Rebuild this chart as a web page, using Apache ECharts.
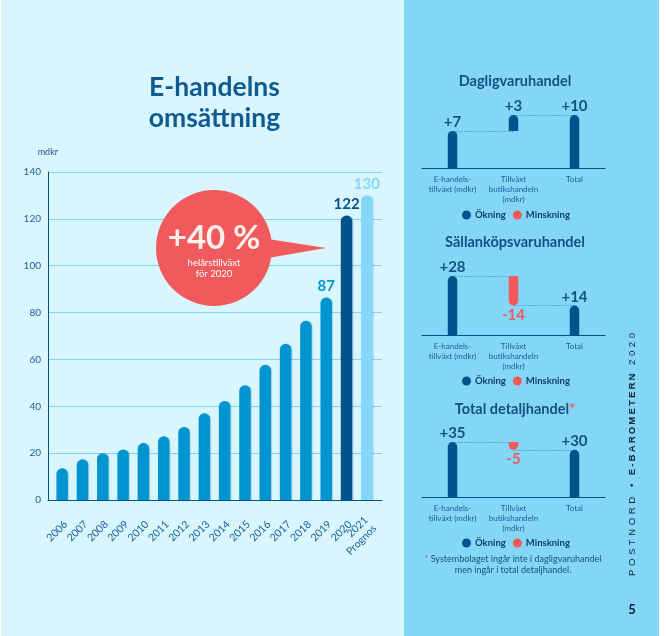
<!DOCTYPE html>
<html>
<head>
<meta charset="utf-8">
<style>
  html, body { margin: 0; padding: 0; background: #fff; }
  #chart { width: 666px; height: 636px; }
  #side { position: absolute; left: 625px; top: 332px; height: 244px; writing-mode: vertical-rl; transform: rotate(180deg);
    font: 9.5px "Liberation Sans", sans-serif; letter-spacing: 3.6px; color: #0b2036; white-space: nowrap; line-height: 14px; }
  #side b { font-weight: 700; letter-spacing: 2.2px; }
  #side i { font-style: normal; letter-spacing: 3.7px; }
</style>
</head>
<body>
<div id="chart"></div>
<div id="side">POSTNORD <b>•</b> <b>E-BAROMETERN</b> <i>2020</i></div>
<script src="https://cdn.jsdelivr.net/npm/echarts@6/dist/echarts.min.js"></script>
<script>
  const years = ['2006', '2007', '2008', '2009', '2010', '2011', '2012', '2013', '2014', '2015', '2016', '2017', '2018', '2019', '2020', '2021\nPrognos'];
  const revenue = [13.5, 17.4, 20, 21.6, 24.3, 27.2, 31.2, 37, 42.3, 49, 57.7, 66.7, 76.5, 86.4, 121.4, 130];
  const revenueLabels = ['', '', '', '', '', '', '', '', '', '', '', '', '', '87', '122', '130'];
  const stepCategories = ['E-handels-\ntillväxt (mdkr)', 'Tillväxt\nbutikshandeln\n(mdkr)', 'Total'];

  const dailyBase = [0, 7, 0];
  const dailyUp = [7, 3, 10];
  const dailyDown = [null, null, null];
  const dailyLabels = ['+7', '+3', '+10'];

  const durableBase = [0, 14, 0];
  const durableUp = [28, null, 14];
  const durableDown = [null, 14, null];
  const durableLabels = ['+28', '-14', '+14'];

  const totalBase = [0, 30, 0];
  const totalUp = [35, null, 30];
  const totalDown = [null, 5, null];
  const totalLabels = ['+35', '-5', '+30'];

  const DARK = '#00548c';
  const MID = '#0095d0';
  const LIGHT = '#85d7f8';
  const RED = '#f15a5c';
  const TEXT = '#14527f';
  const FONT = 'Lato, sans-serif';

  const chart = echarts.init(document.getElementById('chart'));

  // small waterfall panels
  const panels = [
    { base: dailyBase, up: dailyUp, down: dailyDown, labels: dailyLabels, links: [[0, 1, 7], [1, 2, 10]], max: 10, top: 115, height: 53, legendTop: 205, size: 15 },
    { base: durableBase, up: durableUp, down: durableDown, labels: durableLabels, links: [[0, 1, 28], [1, 2, 14]], max: 28, top: 276, height: 59, legendTop: 371, size: 15 },
    { base: totalBase, up: totalUp, down: totalDown, labels: totalLabels, links: [[0, 1, 35], [1, 2, 30]], max: 35, top: 442, height: 55, legendTop: 533, size: 15 }
  ];

  const grids = [
    { left: 48, width: 334, top: 172, height: 328 },
    { left: 52, width: 325, top: 172, height: 328 }
  ];
  const xAxes = [
    { type: 'value', gridIndex: 0, min: 0, max: 1, axisLine: { lineStyle: { color: DARK, width: 1 } }, axisTick: { show: false }, axisLabel: { show: false }, splitLine: { show: false } },
    {
      type: 'category', gridIndex: 1, data: years, offset: 5,
      axisLine: { show: false },
      axisTick: { alignWithLabel: true, length: 6, lineStyle: { color: DARK } },
      axisLabel: { interval: 0, rotate: 45, margin: 21, padding: [0, -5, 0, 0], fontSize: 10.5, lineHeight: 12, color: '#1a5f95', fontFamily: FONT }
    }
  ];
  const yAxes = [
    {
      type: 'value', gridIndex: 0, min: 0, max: 140, interval: 20,
      name: 'mdkr', nameGap: 15, nameTextStyle: { align: 'right', padding: [0, -10, 0, 0], fontSize: 9, color: TEXT, fontFamily: FONT },
      axisLine: { show: true, lineStyle: { color: DARK } }, axisTick: { show: false },
      axisLabel: { margin: 7, fontSize: 10, color: '#1a5f95', fontFamily: FONT },
      splitLine: { lineStyle: { color: '#7fd4f3', width: 1 } }
    },
    { type: 'value', gridIndex: 1, min: 0, max: 140, show: false }
  ];
  const series = [
    {
      name: 'E-handelns omsättning', type: 'bar', xAxisIndex: 1, yAxisIndex: 1, barWidth: 11.5,
      data: revenue.map(function (v, i) {
        const color = i === 14 ? DARK : i === 15 ? LIGHT : MID;
        return {
          value: v,
          itemStyle: { color: color, borderRadius: [6, 6, 0, 0], shadowColor: 'rgba(0,84,140,0.22)', shadowOffsetX: 1, shadowBlur: 1 },
          label: { show: revenueLabels[i] !== '', position: 'top', distance: 4, formatter: revenueLabels[i], fontSize: 15, fontWeight: 'bold', color: color, fontFamily: FONT }
        };
      })
    }
  ];
  const legends = [];

  panels.forEach(function (p, n) {
    const g = n + 2;
    grids.push({ left: 422, width: 183, top: p.top, height: p.height });
    xAxes.push({
      type: 'category', gridIndex: g, data: stepCategories,
      axisLine: { lineStyle: { color: DARK } }, axisTick: { show: false },
      axisLabel: { interval: 0, margin: 6, fontSize: 8, lineHeight: 10, color: '#1a5f95', fontFamily: FONT }
    });
    yAxes.push({ type: 'value', gridIndex: g, min: 0, max: p.max, show: false });
    const stack = 'panel' + n;
    series.push({
      name: 'bas' + n, type: 'bar', xAxisIndex: g, yAxisIndex: g, stack: stack, barWidth: 9.5, z: 1, silent: true,
      itemStyle: { color: 'transparent' }, data: p.base,
      markLine: {
        silent: true, symbol: 'none', z: 1, animation: false,
        label: { show: false },
        lineStyle: { color: '#0a86c4', type: [1, 2], width: 1 },
        data: p.links.map(function (l) {
          return [{ xAxis: l[0], yAxis: l[2] }, { xAxis: l[1], yAxis: l[2] }];
        })
      }
    });
    series.push({
      name: 'Ökning', type: 'bar', xAxisIndex: g, yAxisIndex: g, stack: stack, barWidth: 9.5, z: 3,
      itemStyle: { color: DARK, borderRadius: [5, 5, 0, 0] }, data: p.up,
      label: {
        show: true, position: 'top', distance: 1, fontSize: p.size, fontWeight: 'bold', color: TEXT, fontFamily: FONT,
        formatter: function (d) { return p.labels[d.dataIndex]; }
      }
    });
    series.push({
      name: 'Minskning', type: 'bar', xAxisIndex: g, yAxisIndex: g, stack: stack, barWidth: 9.5, z: 3,
      itemStyle: { color: RED, borderRadius: [0, 0, 5, 5] }, data: p.down,
      label: {
        show: true, position: 'bottom', distance: 2, fontSize: p.size, fontWeight: 'bold', color: RED, fontFamily: FONT,
        formatter: function (d) { return p.labels[d.dataIndex]; }
      }
    });
    legends.push({
      left: 457, top: p.legendTop, itemWidth: 9, itemHeight: 9, itemGap: 7, selectedMode: false, icon: 'circle',
      data: ['Ökning', 'Minskning'],
      textStyle: { fontSize: 9.5, fontWeight: 'bold', color: '#0f3f66', fontFamily: FONT, padding: [0, 0, 0, -1] }
    });
  });

  function label(x, y, text, size, weight, color, extra) {
    return {
      type: 'text', x: x, y: y, z: 20, silent: true,
      style: Object.assign({ text: text, fontSize: size, fontWeight: weight, fill: color, fontFamily: FONT, align: 'center', verticalAlign: 'middle' }, extra || {})
    };
  }

  const graphics = [
    { type: 'rect', z: -2, silent: true, shape: { x: 1, y: 0, width: 403, height: 636 }, style: { fill: '#d9f6ff' } },
    { type: 'rect', z: -2, silent: true, shape: { x: 404, y: 0, width: 255, height: 636 }, style: { fill: '#84d6f7' } },
    label(214.5, 87, 'E-handelns', 26.5, 700, '#0f5a8e'),
    label(214.5, 118, 'omsättning', 26.5, 700, '#0f5a8e'),
    // callout
    { type: 'polygon', z: 15, silent: true, shape: { points: [[268, 239], [326, 248], [268, 258]] }, style: { fill: RED } },
    { type: 'circle', z: 15, silent: true, shape: { cx: 214, cy: 248, r: 58 }, style: { fill: RED } },
    label(214, 238, '+40 %', 33, 700, '#fff2ee'),
    label(214, 263, 'helårstillväxt', 9.5, 400, '#fff'),
    label(214, 274, 'för 2020', 9.5, 400, '#fff'),
    // panel headings
    label(515, 81, 'Dagligvaruhandel', 14.5, 700, TEXT),
    label(515, 242, 'Sällanköpsvaruhandel', 14.5, 700, TEXT),
    label(515, 409, '{a|Total detaljhandel}{r|*}', 14.5, 700, TEXT, {
      rich: {
        a: { fontSize: 14.5, fontWeight: 700, fill: TEXT, fontFamily: FONT },
        r: { fontSize: 14.5, fontWeight: 700, fill: RED, fontFamily: FONT }
      }
    }),
    label(513, 559, '{r|*} {a|Systembolaget ingår inte i dagligvaruhandel}', 9, 400, TEXT, {
      rich: {
        a: { fontSize: 9, fill: TEXT, fontFamily: FONT },
        r: { fontSize: 9, fill: RED, fontFamily: FONT }
      }
    }),
    label(513, 570, 'men ingår i total detaljhandel.', 9, 400, TEXT),
    label(632, 610, '5', 13, 700, '#0b2036')
  ];

  const option = {
    animation: false,
    grid: grids,
    xAxis: xAxes,
    yAxis: yAxes,
    legend: legends,
    series: series,
    graphic: { elements: graphics }
  };
  chart.setOption(option);
</script>
</body>
</html>
